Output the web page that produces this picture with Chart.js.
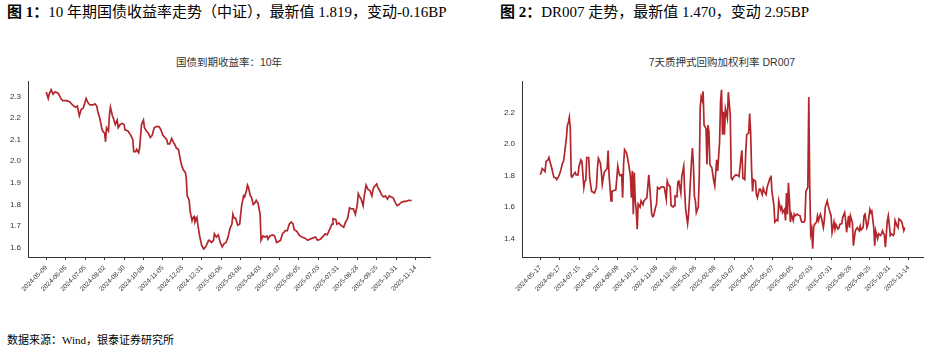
<!DOCTYPE html>
<html>
<head>
<meta charset="utf-8">
<script src="https://cdn.jsdelivr.net/npm/chart.js@4.4.1/dist/chart.umd.min.js"></script>
<style>
  body { margin: 0; width: 936px; height: 351px; background: #fff; position: relative; overflow: hidden;
         font-family: "Liberation Serif", "Noto Sans CJK SC", serif; color: #000; }
  .head { position: absolute; top: 3px; font-size: 15px; line-height: 18px; white-space: nowrap; }
  .title { position: absolute; top: 55px; transform: translateX(-50%); white-space: nowrap;
           font-family: "Liberation Sans", "Noto Sans CJK SC", sans-serif; font-size: 10.5px; line-height: 14px; color: #333; }
  .note { position: absolute; left: 7px; top: 333px; font-size: 11px; line-height: 14px; white-space: nowrap; }
  canvas { position: absolute; top: 70px; }
</style>
</head>
<body>
<div class="head" style="left:7px"><b>图 1：</b>10 年期国债收益率走势（中证），最新值 1.819，变动-0.16BP</div>
<div class="head" style="left:500px"><b>图 2：</b>DR007 走势，最新值 1.470，变动 2.95BP</div>
<div class="title" style="left:229px">国债到期收益率：10年</div>
<div class="title" style="left:722px">7天质押式回购加权利率 DR007</div>
<canvas id="bondChart" width="468" height="237" style="left:0"></canvas>
<canvas id="repoChart" width="468" height="237" style="left:468px"></canvas>
<div class="note">数据来源：Wind，银泰证券研究所</div>
<script>
// trading-day index of each labelled tick (every 20 sessions)
const tickDays = [0, 20, 40, 60, 80, 100, 120, 140, 160, 180, 200, 220, 240, 260, 280, 300, 320, 340, 360, 380];

const bondTickLabels = ['2024-05-09', '2024-06-06', '2024-07-05', '2024-08-02', '2024-08-30', '2024-10-08', '2024-11-05',
  '2024-12-03', '2024-12-31', '2025-02-06', '2025-03-06', '2025-04-03', '2025-05-07', '2025-06-05', '2025-07-03',
  '2025-07-31', '2025-08-28', '2025-09-25', '2025-10-31', '2025-11-14'];
const repoTickLabels = ['2024-05-17', '2024-06-17', '2024-07-15', '2024-08-12', '2024-09-09', '2024-10-12', '2024-11-08',
  '2024-12-06', '2025-01-06', '2025-02-08', '2025-03-07', '2025-04-07', '2025-05-07', '2025-06-05', '2025-07-03',
  '2025-07-31', '2025-08-28', '2025-09-25', '2025-10-31', '2025-11-14'];

const bondYTicks = [1.6, 1.7, 1.8, 1.9, 2.0, 2.1, 2.2, 2.3];
const repoYTicks = [1.4, 1.6, 1.8, 2.0, 2.2];

// 10Y government bond yield (%)
const bondDays = [0, 2, 3, 5, 7, 9, 12, 14, 15, 17, 21, 24, 27, 30, 32, 34, 36, 38, 39, 41, 43, 45, 48, 50, 52, 53, 55, 57, 58, 60,
  61, 62, 64, 65, 66, 68, 69, 71, 73, 74, 76, 78, 80, 81, 84, 87, 89, 90, 92, 93, 95, 96, 98, 100, 101, 103, 105, 107, 109, 111,
  113, 116, 118, 120, 122, 124, 125, 127, 129, 131, 132, 134, 136, 137, 139, 141, 143, 144, 145, 147, 148, 150, 151, 152, 153, 155,
  156, 158, 160, 162, 164, 167, 168, 170, 172, 173, 175, 177, 179, 181, 183, 185, 187, 189, 191, 192, 193, 195, 197, 199, 200, 201,
  203, 204, 206, 207, 208, 210, 211, 213, 215, 216, 218, 220, 221, 223, 225, 227, 228, 230, 233, 235, 237, 239, 241, 243, 246, 248,
  250, 252, 254, 255, 258, 260, 263, 266, 269, 271, 274, 277, 279, 282, 284, 287, 289, 291, 294, 295, 298, 299, 301, 303, 306, 308,
  310, 312, 314, 316, 318, 320, 321, 322, 324, 326, 327, 329, 331, 333, 335, 336, 337, 340, 341, 343, 345, 347, 349, 351, 353, 355,
  357, 359, 361, 363, 365, 368, 370, 373, 376];
const bondYield = [2.32, 2.29, 2.31, 2.33, 2.31, 2.32, 2.315, 2.30, 2.29, 2.28, 2.28, 2.275, 2.26, 2.25, 2.255, 2.21, 2.24, 2.245, 2.26, 2.29,
  2.27, 2.26, 2.26, 2.265, 2.255, 2.23, 2.20, 2.155, 2.14, 2.13, 2.09, 2.155, 2.14, 2.215, 2.25, 2.21, 2.20, 2.17, 2.19, 2.155,
  2.17, 2.175, 2.17, 2.145, 2.14, 2.12, 2.10, 2.045, 2.045, 2.055, 2.04, 2.06, 2.17, 2.19, 2.155, 2.14, 2.13, 2.11, 2.12, 2.155,
  2.16, 2.16, 2.145, 2.12, 2.11, 2.10, 2.08, 2.08, 2.105, 2.085, 2.08, 2.06, 2.055, 2.03, 1.985, 1.96, 1.95, 1.925, 1.84, 1.82,
  1.77, 1.725, 1.74, 1.745, 1.72, 1.74, 1.705, 1.65, 1.61, 1.595, 1.605, 1.635, 1.635, 1.625, 1.635, 1.665, 1.65, 1.66, 1.625, 1.605,
  1.62, 1.625, 1.65, 1.69, 1.71, 1.755, 1.74, 1.735, 1.705, 1.71, 1.755, 1.795, 1.84, 1.835, 1.865, 1.89, 1.88, 1.84, 1.835, 1.80,
  1.81, 1.82, 1.805, 1.755, 1.635, 1.655, 1.65, 1.655, 1.64, 1.655, 1.66, 1.655, 1.625, 1.63, 1.635, 1.665, 1.68, 1.68, 1.71, 1.72,
  1.71, 1.685, 1.675, 1.66, 1.65, 1.645, 1.635, 1.64, 1.645, 1.65, 1.635, 1.64, 1.65, 1.665, 1.66, 1.68, 1.71, 1.735, 1.73, 1.71,
  1.715, 1.705, 1.695, 1.72, 1.735, 1.785, 1.78, 1.78, 1.755, 1.80, 1.85, 1.84, 1.825, 1.795, 1.835, 1.89, 1.87, 1.865, 1.84, 1.865,
  1.88, 1.895, 1.88, 1.865, 1.845, 1.835, 1.84, 1.825, 1.84, 1.835, 1.83, 1.81, 1.795, 1.80, 1.81, 1.815, 1.815, 1.82, 1.819];

// DR007 (%)
const repoDays = [0, 1, 2, 3, 5, 6, 8, 9, 10, 12, 14, 16, 17, 19, 20, 21, 23, 24, 25, 27, 28, 29, 30, 31, 32, 33, 34, 36, 37, 39,
  40, 42, 43, 45, 46, 47, 48, 50, 51, 53, 56, 58, 59, 60, 62, 63, 64, 66, 67, 69, 70, 71, 73, 74, 76, 78, 80, 81, 82, 84,
  85, 86, 87, 89, 90, 91, 93, 94, 95, 96, 97, 98, 99, 100, 101, 103, 104, 106, 107, 108, 110, 111, 112, 113, 115, 116, 117, 119, 120, 121,
  123, 124, 126, 128, 130, 131, 132, 134, 135, 137, 138, 139, 141, 142, 143, 145, 146, 148, 149, 150, 152, 153, 154, 156, 157, 158, 159, 160, 161, 163,
  164, 165, 166, 167, 168, 169, 171, 172, 173, 174, 175, 177, 179, 180, 182, 183, 185, 186, 187, 188, 189, 190, 191, 193, 194, 196, 197, 198, 200, 202,
  204, 205, 207, 208, 209, 211, 212, 213, 215, 216, 217, 218, 219, 220, 222, 223, 224, 226, 227, 229, 230, 231, 233, 234, 235, 237, 238, 239, 241, 242,
  244, 245, 246, 248, 249, 250, 252, 253, 254, 255, 256, 257, 258, 259, 261, 262, 263, 265, 266, 268, 269, 270, 272, 273, 274, 276, 277, 278, 279, 280,
  281, 282, 283, 285, 286, 287, 289, 290, 292, 293, 294, 296, 297, 298, 300, 301, 303, 304, 305, 307, 308, 309, 311, 312, 314, 315, 316, 318, 319, 320,
  322, 323, 325, 326, 327, 329, 330, 331, 333, 334, 335, 337, 338, 340, 341, 342, 344, 345, 346, 348, 349, 351, 352, 353, 355, 356, 358, 359, 360, 361,
  362, 364, 365, 366, 368, 369, 370, 372, 373, 375, 376];
const repoRate = [1.807, 1.82, 1.845, 1.84, 1.825, 1.89, 1.90, 1.915, 1.89, 1.845, 1.79, 1.785, 1.775, 1.795, 1.81, 1.83, 1.88, 1.89, 1.935, 2.04,
  2.12, 2.135, 2.17, 2.10, 1.795, 1.79, 1.805, 1.82, 1.805, 1.805, 1.86, 1.90, 1.89, 1.725, 1.765, 1.77, 1.915, 1.915, 1.785, 1.70,
  1.69, 1.725, 1.85, 1.91, 1.88, 1.83, 1.745, 1.82, 1.83, 1.845, 1.96, 1.805, 1.64, 1.70, 1.705, 1.71, 1.86, 1.825, 1.80, 1.805,
  1.66, 1.875, 1.965, 1.945, 1.915, 1.88, 1.80, 1.66, 1.83, 1.555, 1.82, 1.64, 1.585, 1.46, 1.62, 1.60, 1.64, 1.615, 1.64, 1.645,
  1.66, 1.735, 1.805, 1.725, 1.555, 1.54, 1.545, 1.60, 1.62, 1.725, 1.715, 1.725, 1.73, 1.725, 1.65, 1.765, 1.745, 1.73, 1.61, 1.60,
  1.61, 1.67, 1.665, 1.76, 1.765, 1.69, 1.795, 1.86, 1.70, 1.585, 1.495, 1.555, 1.66, 1.89, 1.975, 1.87, 1.67, 1.64, 1.565, 1.60,
  1.785, 2.23, 2.30, 2.28, 2.335, 2.12, 2.10, 1.87, 2.12, 2.08, 1.87, 1.85, 1.765, 1.735, 1.90, 1.83, 2.015, 2.27, 2.345, 2.06,
  2.205, 2.06, 2.225, 2.165, 2.33, 2.185, 1.785, 1.775, 1.795, 1.805, 1.80, 1.795, 1.91, 1.96, 1.785, 1.775, 1.955, 2.06, 2.07, 2.195,
  2.08, 1.84, 1.70, 1.775, 1.765, 1.68, 1.66, 1.715, 1.715, 1.68, 1.72, 1.70, 1.68, 1.725, 1.745, 1.785, 1.80, 1.70, 1.61, 1.505,
  1.52, 1.515, 1.64, 1.585, 1.60, 1.565, 1.585, 1.515, 1.69, 1.555, 1.755, 1.65, 1.505, 1.555, 1.515, 1.555, 1.545, 1.555, 1.55, 1.545,
  1.515, 1.505, 1.505, 1.515, 1.70, 1.725, 2.30, 1.725, 1.43, 1.46, 1.335, 1.47, 1.49, 1.505, 1.545, 1.515, 1.555, 1.535, 1.47, 1.515,
  1.60, 1.64, 1.61, 1.585, 1.545, 1.44, 1.505, 1.46, 1.49, 1.46, 1.465, 1.49, 1.495, 1.535, 1.565, 1.515, 1.44, 1.545, 1.47, 1.545,
  1.50, 1.355, 1.45, 1.46, 1.47, 1.45, 1.48, 1.455, 1.47, 1.545, 1.555, 1.47, 1.49, 1.585, 1.565, 1.575, 1.47, 1.355, 1.45, 1.40,
  1.43, 1.42, 1.43, 1.45, 1.42, 1.345, 1.515, 1.545, 1.49, 1.42, 1.43, 1.42, 1.43, 1.515, 1.48, 1.47, 1.525, 1.515, 1.505, 1.45,
  1.47];

const lineColor = '#b3262b';
const axisColor = '#333';

function drawLine(id, days, values, tickLabels, yTicks, yMin, yMax, yWidth, padRight) {
    const ctx = document.getElementById(id).getContext('2d');
    return new Chart(ctx, {
        type: 'line',
        data: {
            datasets: [{
                data: days.map((d, i) => ({ x: d, y: values[i] })),
                borderColor: lineColor,
                borderWidth: 1.7,
                pointRadius: 0,
                tension: 0
            }]
        },
        options: {
            responsive: false,
            animation: false,
            devicePixelRatio: 1,
            layout: { padding: { top: 10, right: padRight, left: 0, bottom: 0 } },
            plugins: { legend: { display: false }, tooltip: { enabled: false } },
            scales: {
                x: {
                    type: 'linear',
                    min: -18.8,
                    max: 394.8,
                    afterBuildTicks: s => { s.ticks = tickDays.map(v => ({ value: v })); },
                    afterFit: s => { s.height = 50; },
                    border: { display: true, color: axisColor, width: 1 },
                    grid: { drawOnChartArea: false, drawTicks: true, tickLength: 3, color: axisColor },
                    ticks: {
                        autoSkip: false,
                        minRotation: 45,
                        maxRotation: 45,
                        padding: 4,
                        color: '#333',
                        font: { family: 'Liberation Sans, sans-serif', size: 6.5 },
                        callback: (v, i) => tickLabels[i]
                    }
                },
                y: {
                    min: yMin,
                    max: yMax,
                    afterBuildTicks: s => { s.ticks = yTicks.map(v => ({ value: v })); },
                    afterFit: s => { s.width = yWidth; },
                    border: { display: true, color: axisColor, width: 1 },
                    grid: { display: false, drawTicks: false },
                    ticks: {
                        padding: 7,
                        color: '#333',
                        font: { family: 'Liberation Sans, sans-serif', size: 8 },
                        callback: v => v.toFixed(1)
                    }
                }
            }
        }
    });
}

drawLine('bondChart', bondDays, bondYield, bondTickLabels, bondYTicks, 1.558, 2.367, 28, 38);
drawLine('repoChart', repoDays, repoRate, repoTickLabels, repoYTicks, 1.283, 2.396, 54, 13);
</script>
</body>
</html>
